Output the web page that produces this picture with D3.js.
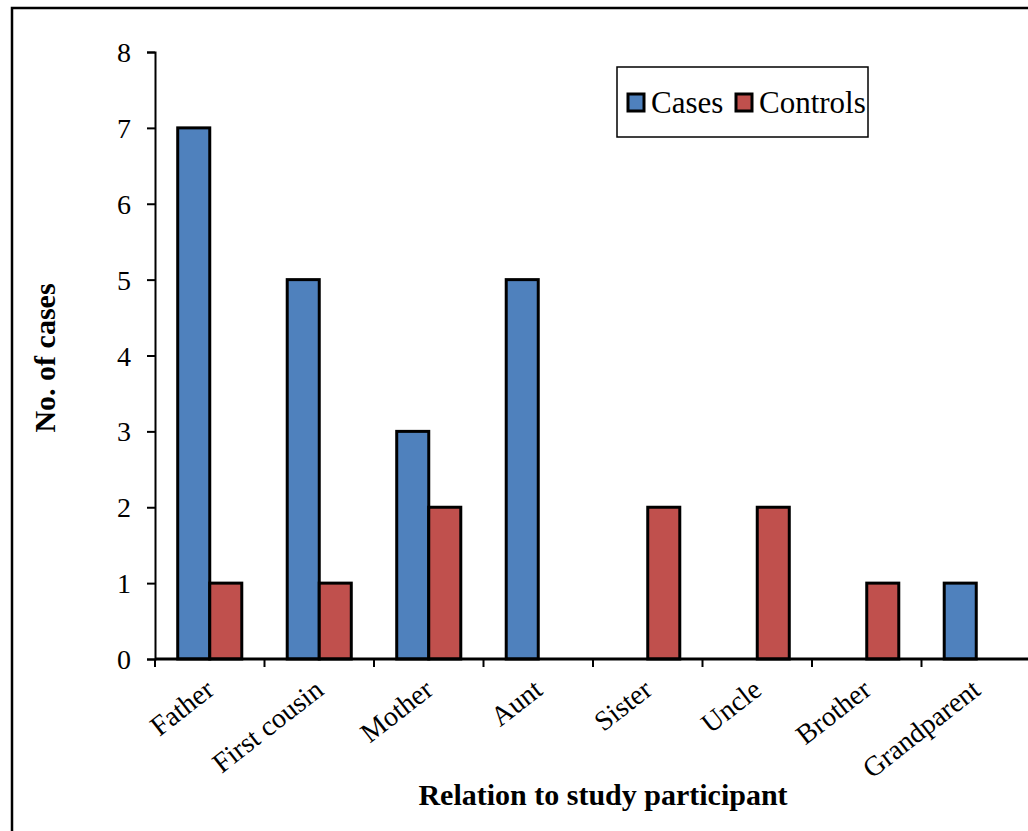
<!DOCTYPE html>
<html>
<head>
<meta charset="utf-8">
<script src="https://cdn.jsdelivr.net/npm/d3@7"></script>
<style>
  html, body { margin: 0; padding: 0; background: #fff; }
  svg { display: block; }
  text { font-family: "Liberation Serif", "Times New Roman", serif; fill: #000; }
</style>
</head>
<body>
<script>
// Family members reporting the condition, by relation to the participant
const categories = ["Father", "First cousin", "Mother", "Aunt", "Sister", "Uncle", "Brother", "Grandparent"];
const casesValues = [7, 5, 3, 5, 0, 0, 0, 1];
const controlsValues = [1, 1, 2, 0, 2, 2, 1, 0];
const seriesNames = ["Cases", "Controls"];
const seriesColors = ["#4F81BD", "#C0504D"];
const yTicks = [0, 1, 2, 3, 4, 5, 6, 7, 8];

const W = 1028, H = 831;
const margin = { left: 155, right: -3, top: 52, bottom: 172 };

const svg = d3.select("body").append("svg").attr("width", W).attr("height", H);

// outer frame (left and top edges visible)
svg.append("path")
  .attr("d", `M12,${H} L12,8 L${W},8`)
  .attr("fill", "none").attr("stroke", "#000").attr("stroke-width", 2.5);

const x0 = d3.scaleBand().domain(categories)
  .range([margin.left, W - margin.right]).paddingInner(0.415).paddingOuter(0.2075);
const bandFull = d3.scaleBand().domain(categories)
  .range([margin.left, W - margin.right]).padding(0);
const x1 = d3.scaleBand().domain(seriesNames).range([0, x0.bandwidth()]);
const y = d3.scaleLinear().domain([0, 8]).range([H - margin.bottom, margin.top]);

const rows = categories.map((c, i) => ({ cat: c, vals: [casesValues[i], controlsValues[i]] }));

// bars (zero values drawn as nothing)
const g = svg.append("g");
rows.forEach(r => {
  r.vals.forEach((v, k) => {
    if (v <= 0) return;
    g.append("rect")
      .attr("x", x0(r.cat) + x1(seriesNames[k]))
      .attr("y", y(v))
      .attr("width", x1.bandwidth())
      .attr("height", y(0) - y(v))
      .attr("fill", seriesColors[k])
      .attr("stroke", "#000").attr("stroke-width", 3);
  });
});

// y axis
const yAxis = svg.append("g").attr("transform", `translate(${margin.left},0)`)
  .call(d3.axisLeft(y).tickValues(yTicks).tickFormat(d3.format("d")).tickSize(8).tickPadding(16));
yAxis.select(".domain").attr("stroke", "#000").attr("stroke-width", 2);
yAxis.selectAll(".tick line").attr("stroke", "#000").attr("stroke-width", 2);
yAxis.selectAll(".tick text").attr("font-size", 28).attr("dy", "0.34em");

// x axis: ticks on category boundaries
const boundaries = categories.map(c => bandFull(c));
const xAxis = svg.append("g").attr("transform", `translate(0,${y(0)})`);
xAxis.append("line").attr("x1", margin.left).attr("x2", W + 5)
  .attr("stroke", "#000").attr("stroke-width", 3);
xAxis.selectAll("line.tk").data(boundaries.concat([W - margin.right])).join("line")
  .attr("class", "tk")
  .attr("x1", d => d).attr("x2", d => d).attr("y1", 0).attr("y2", 8)
  .attr("stroke", "#000").attr("stroke-width", 2);

// rotated category labels
xAxis.selectAll("text.cat").data(categories).join("text")
  .attr("class", "cat")
  .attr("text-anchor", "end")
  .attr("font-size", 28)
  .attr("transform", d => `translate(${bandFull(d) + bandFull.bandwidth() / 2 + 6},${34}) rotate(-38)`)
  .text(d => d);

// axis titles
svg.append("text")
  .attr("text-anchor", "middle").attr("font-size", 30).attr("font-weight", "bold")
  .attr("transform", `translate(55,358) rotate(-90)`)
  .text("No. of cases");
svg.append("text")
  .attr("text-anchor", "middle").attr("font-size", 30).attr("font-weight", "bold")
  .attr("x", 603).attr("y", 805)
  .text("Relation to study participant");

// legend
const leg = svg.append("g");
leg.append("rect").attr("x", 617).attr("y", 67).attr("width", 251).attr("height", 70)
  .attr("fill", "#fff").attr("stroke", "#000").attr("stroke-width", 1.5);
const legX = [628, 736];
seriesNames.forEach((s, k) => {
  leg.append("rect").attr("x", legX[k]).attr("y", 94).attr("width", 16).attr("height", 17)
    .attr("fill", seriesColors[k]).attr("stroke", "#000").attr("stroke-width", 3);
  leg.append("text").attr("x", legX[k] + 23).attr("y", 113).attr("font-size", 31).text(s);
});
</script>
</body>
</html>
